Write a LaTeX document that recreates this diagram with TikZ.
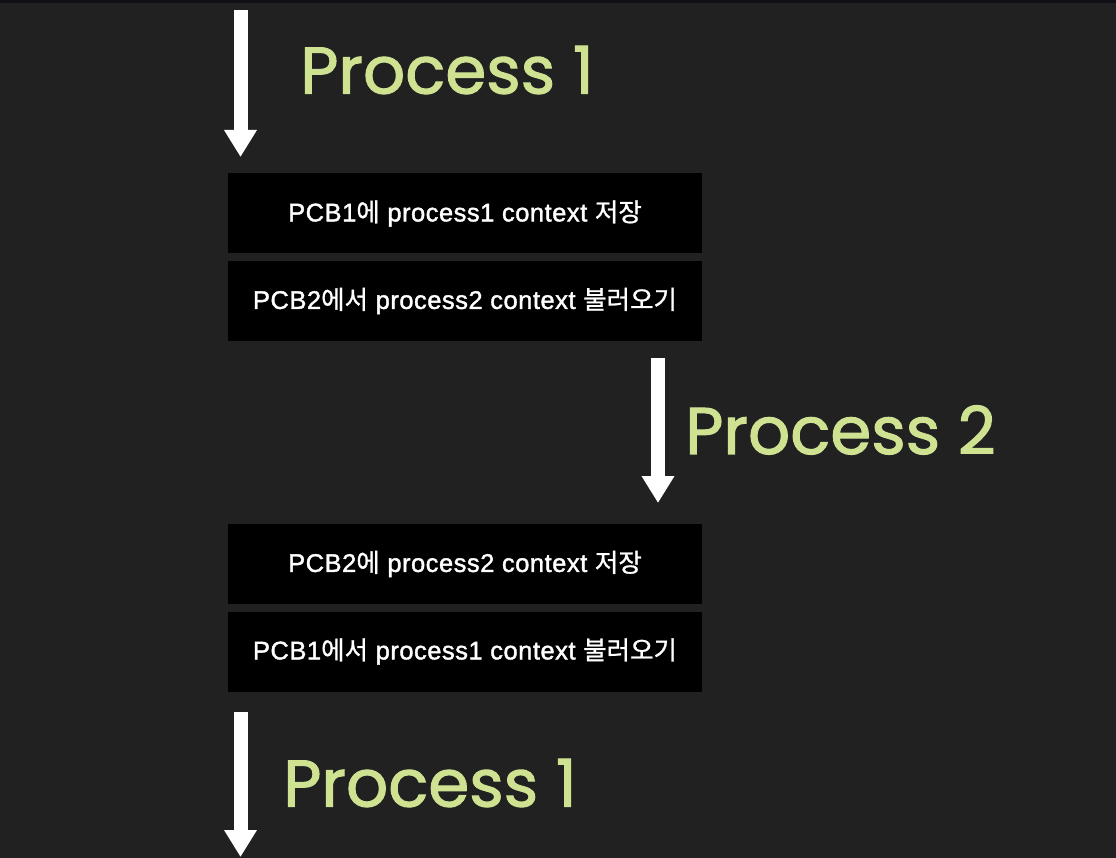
\documentclass[tikz,border=0pt]{standalone}
\usepackage{fontspec}
\setmainfont{Poppins}
\newfontfamily\handf{Poppins}[FakeBold=1.6]
\newfontfamily\krfont{Noto Sans CJK KR}[FakeBold=1.0]
\newfontfamily\latf{Liberation Sans}[FakeBold=1.5, LetterSpace=2]
\newcommand{\kr}[1]{{\krfont #1}}
\usetikzlibrary{arrows.meta}
\definecolor{bgc}{RGB}{33,33,33}
\definecolor{topc}{RGB}{16,16,24}
\definecolor{handg}{RGB}{206,226,146}
\tikzset{
  stepbox/.style={fill=black, draw=none, minimum width=474pt, minimum height=80pt, inner sep=0pt,
    text=white, font=\latf\fontsize{25.5}{28}\selectfont},
  flowarrow/.style={draw=white, line width=14pt, -{Triangle[width=31pt,length=27pt]}},
  proclabel/.style={text=handg, anchor=west, inner sep=0pt, font=\handf\fontsize{66}{68}\selectfont}
}
\begin{document}
\begin{tikzpicture}[x=1pt,y=-1pt]
\fill[bgc] (0,0) rectangle (1116,858);
\fill[topc] (0,0) rectangle (1116,3);
\useasboundingbox (0,0) rectangle (1116,858);
% arrows
\coordinate (a1s) at (240.5,10);
\coordinate (a1e) at (240.5,157);
\coordinate (a2s) at (658,358);
\coordinate (a2e) at (658,503);
\coordinate (a3s) at (240.5,712);
\coordinate (a3e) at (240.5,857);
\draw[flowarrow] (a1s) -- (a1e);
\draw[flowarrow] (a2s) -- (a2e);
\draw[flowarrow] (a3s) -- (a3e);
% labels
\node[proclabel] (p1) at (300,70) {Process 1};
\node[proclabel] (p2) at (685,430) {Process 2};
\node[proclabel] (p3) at (283,783) {Process 1};
% boxes
\node[stepbox] (b1) at (465,213.5) {PCB1\kr{에} process1 context \kr{저장}};
\node[stepbox] (b2) at (465,301) {PCB2\kr{에서} process2 context \kr{불러오기}};
\node[stepbox] (b3) at (465,564) {PCB2\kr{에} process2 context \kr{저장}};
\node[stepbox] (b4) at (465,651.5) {PCB1\kr{에서} process1 context \kr{불러오기}};
\end{tikzpicture}
\end{document}
